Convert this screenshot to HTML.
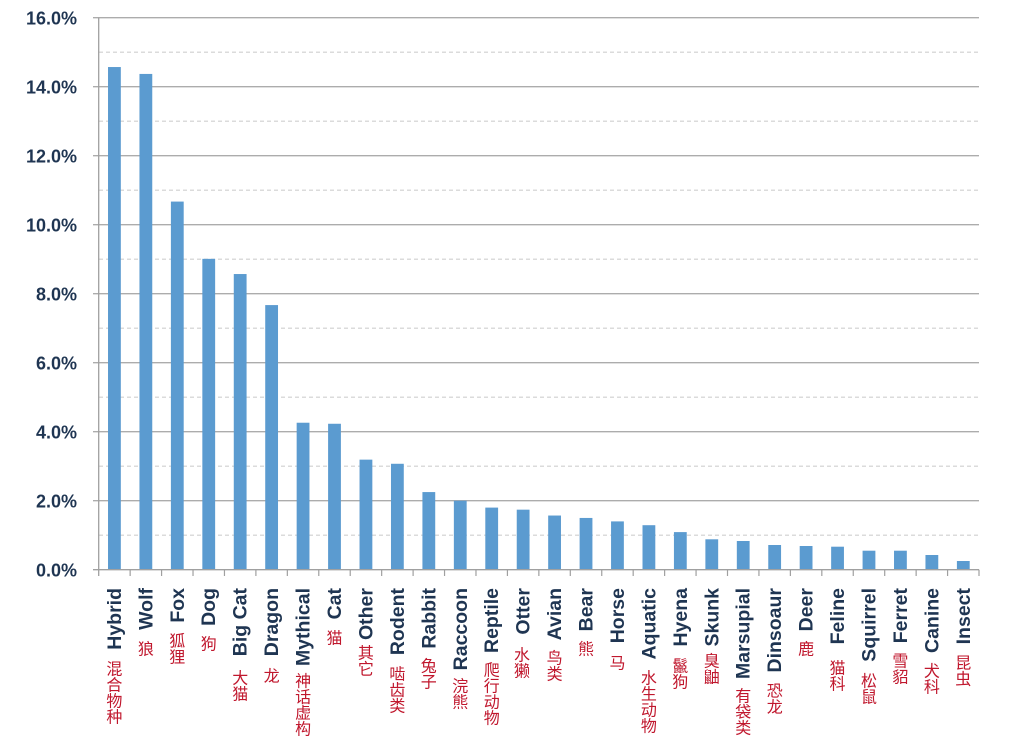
<!DOCTYPE html>
<html>
<head>
<meta charset="utf-8">
<style>
html,body{margin:0;padding:0;background:#ffffff;}
svg{display:block;}
.yl{font-family:"Liberation Sans",Arial,sans-serif;font-weight:bold;font-size:18px;fill:#1f3552;}
.en{font-family:"Liberation Sans",Arial,sans-serif;font-weight:bold;font-size:19.5px;fill:#1f3552;}
.zh{font-family:"Liberation Sans","Noto Sans CJK SC","WenQuanYi Zen Hei",sans-serif;font-size:16px;fill:#c0172d;}
</style>
</head>
<body>
<svg width="1021" height="740" viewBox="0 0 1021 740" xmlns="http://www.w3.org/2000/svg">
<rect width="1021" height="740" fill="#ffffff"/>
<!-- dashed minor gridlines -->
<g stroke="#cfcfcf" stroke-width="1.2" stroke-dasharray="4,3">
<line x1="99" y1="535.2" x2="979" y2="535.2"/>
<line x1="99" y1="466.2" x2="979" y2="466.2"/>
<line x1="99" y1="397.2" x2="979" y2="397.2"/>
<line x1="99" y1="328.2" x2="979" y2="328.2"/>
<line x1="99" y1="259.2" x2="979" y2="259.2"/>
<line x1="99" y1="190.2" x2="979" y2="190.2"/>
<line x1="99" y1="121.2" x2="979" y2="121.2"/>
<line x1="99" y1="52.2" x2="979" y2="52.2"/>
</g>
<!-- solid major gridlines -->
<g stroke="#acacac" stroke-width="1.3">
<line x1="93" y1="500.7" x2="979" y2="500.7"/>
<line x1="93" y1="431.7" x2="979" y2="431.7"/>
<line x1="93" y1="362.7" x2="979" y2="362.7"/>
<line x1="93" y1="293.7" x2="979" y2="293.7"/>
<line x1="93" y1="224.7" x2="979" y2="224.7"/>
<line x1="93" y1="155.7" x2="979" y2="155.7"/>
<line x1="93" y1="86.7" x2="979" y2="86.7"/>
<line x1="93" y1="17.7" x2="979" y2="17.7"/>
</g>
<!-- bars -->
<g fill="#5b9bd0">
<rect x="108.02" y="67.03" width="12.8" height="502.67"/>
<rect x="139.46" y="73.93" width="12.8" height="495.77"/>
<rect x="170.90" y="201.58" width="12.8" height="368.12"/>
<rect x="202.34" y="258.85" width="12.8" height="310.85"/>
<rect x="233.78" y="274.03" width="12.8" height="295.67"/>
<rect x="265.22" y="305.08" width="12.8" height="264.62"/>
<rect x="296.66" y="422.73" width="12.8" height="146.97"/>
<rect x="328.10" y="423.76" width="12.8" height="145.94"/>
<rect x="359.54" y="459.64" width="12.8" height="110.06"/>
<rect x="390.98" y="463.78" width="12.8" height="105.92"/>
<rect x="422.42" y="492.07" width="12.8" height="77.63"/>
<rect x="453.86" y="500.7" width="12.8" height="69"/>
<rect x="485.30" y="507.6" width="12.8" height="62.1"/>
<rect x="516.74" y="509.67" width="12.8" height="60.03"/>
<rect x="548.18" y="515.53" width="12.8" height="54.17"/>
<rect x="579.62" y="517.95" width="12.8" height="51.75"/>
<rect x="611.06" y="521.4" width="12.8" height="48.3"/>
<rect x="642.50" y="525.2" width="12.8" height="44.5"/>
<rect x="673.94" y="532.1" width="12.8" height="37.6"/>
<rect x="705.38" y="539.3" width="12.8" height="30.4"/>
<rect x="736.82" y="541" width="12.8" height="28.7"/>
<rect x="768.26" y="545" width="12.8" height="24.7"/>
<rect x="799.70" y="546" width="12.8" height="23.7"/>
<rect x="831.14" y="546.7" width="12.8" height="23.0"/>
<rect x="862.58" y="550.7" width="12.8" height="19.0"/>
<rect x="894.02" y="550.7" width="12.8" height="19.0"/>
<rect x="925.46" y="555" width="12.8" height="14.7"/>
<rect x="956.90" y="561" width="12.8" height="8.7"/>
</g>
<!-- axes -->
<g stroke="#a0a0a0" stroke-width="1.3">
<line x1="98.7" y1="17.7" x2="98.7" y2="576"/>
<line x1="93" y1="569.7" x2="979" y2="569.7"/>
</g>
<!-- x ticks -->
<g stroke="#a0a0a0" stroke-width="1.2">
<line x1="130.14" y1="569.7" x2="130.14" y2="576"/>
<line x1="161.58" y1="569.7" x2="161.58" y2="576"/>
<line x1="193.02" y1="569.7" x2="193.02" y2="576"/>
<line x1="224.46" y1="569.7" x2="224.46" y2="576"/>
<line x1="255.90" y1="569.7" x2="255.90" y2="576"/>
<line x1="287.34" y1="569.7" x2="287.34" y2="576"/>
<line x1="318.78" y1="569.7" x2="318.78" y2="576"/>
<line x1="350.22" y1="569.7" x2="350.22" y2="576"/>
<line x1="381.66" y1="569.7" x2="381.66" y2="576"/>
<line x1="413.10" y1="569.7" x2="413.10" y2="576"/>
<line x1="444.54" y1="569.7" x2="444.54" y2="576"/>
<line x1="475.98" y1="569.7" x2="475.98" y2="576"/>
<line x1="507.42" y1="569.7" x2="507.42" y2="576"/>
<line x1="538.86" y1="569.7" x2="538.86" y2="576"/>
<line x1="570.30" y1="569.7" x2="570.30" y2="576"/>
<line x1="601.74" y1="569.7" x2="601.74" y2="576"/>
<line x1="633.18" y1="569.7" x2="633.18" y2="576"/>
<line x1="664.62" y1="569.7" x2="664.62" y2="576"/>
<line x1="696.06" y1="569.7" x2="696.06" y2="576"/>
<line x1="727.50" y1="569.7" x2="727.50" y2="576"/>
<line x1="758.94" y1="569.7" x2="758.94" y2="576"/>
<line x1="790.38" y1="569.7" x2="790.38" y2="576"/>
<line x1="821.82" y1="569.7" x2="821.82" y2="576"/>
<line x1="853.26" y1="569.7" x2="853.26" y2="576"/>
<line x1="884.70" y1="569.7" x2="884.70" y2="576"/>
<line x1="916.14" y1="569.7" x2="916.14" y2="576"/>
<line x1="947.58" y1="569.7" x2="947.58" y2="576"/>
<line x1="979" y1="569.7" x2="979" y2="576"/>
</g>
<!-- y labels -->
<g class="yl" text-anchor="end">
<text x="77" y="576.7">0.0%</text>
<text x="77" y="507.7">2.0%</text>
<text x="77" y="438.7">4.0%</text>
<text x="77" y="369.7">6.0%</text>
<text x="77" y="300.7">8.0%</text>
<text x="77" y="231.7">10.0%</text>
<text x="77" y="162.7">12.0%</text>
<text x="77" y="93.7">14.0%</text>
<text x="77" y="24.7">16.0%</text>
</g>
<!-- English labels -->
<g class="en" text-anchor="end">
<text transform="translate(120.9,588) rotate(-90)">Hybrid</text>
<text transform="translate(152.4,588) rotate(-90)">Wolf</text>
<text transform="translate(183.8,588) rotate(-90)">Fox</text>
<text transform="translate(215.2,588) rotate(-90)">Dog</text>
<text transform="translate(246.7,588) rotate(-90)">Big Cat</text>
<text transform="translate(278.1,588) rotate(-90)">Dragon</text>
<text transform="translate(309.6,588) rotate(-90)">Mythical</text>
<text transform="translate(341.0,588) rotate(-90)">Cat</text>
<text transform="translate(372.4,588) rotate(-90)">Other</text>
<text transform="translate(403.9,588) rotate(-90)">Rodent</text>
<text transform="translate(435.3,588) rotate(-90)">Rabbit</text>
<text transform="translate(466.8,588) rotate(-90)">Raccoon</text>
<text transform="translate(498.2,588) rotate(-90)">Reptile</text>
<text transform="translate(529.6,588) rotate(-90)">Otter</text>
<text transform="translate(561.1,588) rotate(-90)">Avian</text>
<text transform="translate(592.5,588) rotate(-90)">Bear</text>
<text transform="translate(624.0,588) rotate(-90)">Horse</text>
<text transform="translate(655.4,588) rotate(-90)">Aquatic</text>
<text transform="translate(686.8,588) rotate(-90)">Hyena</text>
<text transform="translate(718.3,588) rotate(-90)">Skunk</text>
<text transform="translate(749.7,588) rotate(-90)">Marsupial</text>
<text transform="translate(781.2,588) rotate(-90)">Dinsoaur</text>
<text transform="translate(812.6,588) rotate(-90)">Deer</text>
<text transform="translate(844.0,588) rotate(-90)">Feline</text>
<text transform="translate(875.5,588) rotate(-90)">Squirrel</text>
<text transform="translate(906.9,588) rotate(-90)">Ferret</text>
<text transform="translate(938.4,588) rotate(-90)">Canine</text>
<text transform="translate(969.8,588) rotate(-90)">Insect</text>
</g>
<!-- Chinese labels -->
<g class="zh" text-anchor="middle">
<text x="114.4" y="674.3"><tspan x="114.4">混</tspan><tspan x="114.4" dy="16">合</tspan><tspan x="114.4" dy="16">物</tspan><tspan x="114.4" dy="16">种</tspan></text>
<text x="145.9" y="654.3">狼</text>
<text x="177.3" y="646.3"><tspan x="177.3">狐</tspan><tspan x="177.3" dy="16">狸</tspan></text>
<text x="208.7" y="649.3">狗</text>
<text x="240.2" y="683.3"><tspan x="240.2">大</tspan><tspan x="240.2" dy="16">猫</tspan></text>
<text x="271.6" y="681.3">龙</text>
<text x="303.1" y="686.3"><tspan x="303.1">神</tspan><tspan x="303.1" dy="16">话</tspan><tspan x="303.1" dy="16">虚</tspan><tspan x="303.1" dy="16">构</tspan></text>
<text x="334.5" y="643.3">猫</text>
<text x="365.9" y="658.3"><tspan x="365.9">其</tspan><tspan x="365.9" dy="16">它</tspan></text>
<text x="397.4" y="679.3"><tspan x="397.4">啮</tspan><tspan x="397.4" dy="16">齿</tspan><tspan x="397.4" dy="16">类</tspan></text>
<text x="428.8" y="671.3"><tspan x="428.8">兔</tspan><tspan x="428.8" dy="16">子</tspan></text>
<text x="460.3" y="691.3"><tspan x="460.3">浣</tspan><tspan x="460.3" dy="16">熊</tspan></text>
<text x="491.7" y="675.3"><tspan x="491.7">爬</tspan><tspan x="491.7" dy="16">行</tspan><tspan x="491.7" dy="16">动</tspan><tspan x="491.7" dy="16">物</tspan></text>
<text x="522.0" y="660.3"><tspan x="522.0">水</tspan><tspan x="522.0" dy="16">獭</tspan></text>
<text x="554.6" y="663.3"><tspan x="554.6">鸟</tspan><tspan x="554.6" dy="16">类</tspan></text>
<text x="586.0" y="654.3">熊</text>
<text x="617.5" y="668.3">马</text>
<text x="648.9" y="683.3"><tspan x="648.9">水</tspan><tspan x="648.9" dy="16">生</tspan><tspan x="648.9" dy="16">动</tspan><tspan x="648.9" dy="16">物</tspan></text>
<text x="680.3" y="671.3"><tspan x="680.3">鬣</tspan><tspan x="680.3" dy="16">狗</tspan></text>
<text x="711.8" y="666.3"><tspan x="711.8">臭</tspan><tspan x="711.8" dy="16">鼬</tspan></text>
<text x="743.2" y="701.3"><tspan x="743.2">有</tspan><tspan x="743.2" dy="16">袋</tspan><tspan x="743.2" dy="16">类</tspan></text>
<text x="774.7" y="696.3"><tspan x="774.7">恐</tspan><tspan x="774.7" dy="16">龙</tspan></text>
<text x="806.1" y="654.3">鹿</text>
<text x="837.5" y="673.3"><tspan x="837.5">猫</tspan><tspan x="837.5" dy="16">科</tspan></text>
<text x="869.0" y="686.3"><tspan x="869.0">松</tspan><tspan x="869.0" dy="16">鼠</tspan></text>
<text x="900.4" y="666.3"><tspan x="900.4">雪</tspan><tspan x="900.4" dy="16">貂</tspan></text>
<text x="931.9" y="676.3"><tspan x="931.9">犬</tspan><tspan x="931.9" dy="16">科</tspan></text>
<text x="963.3" y="668.3"><tspan x="963.3">昆</tspan><tspan x="963.3" dy="16">虫</tspan></text>
</g>
</svg>
</body>
</html>
